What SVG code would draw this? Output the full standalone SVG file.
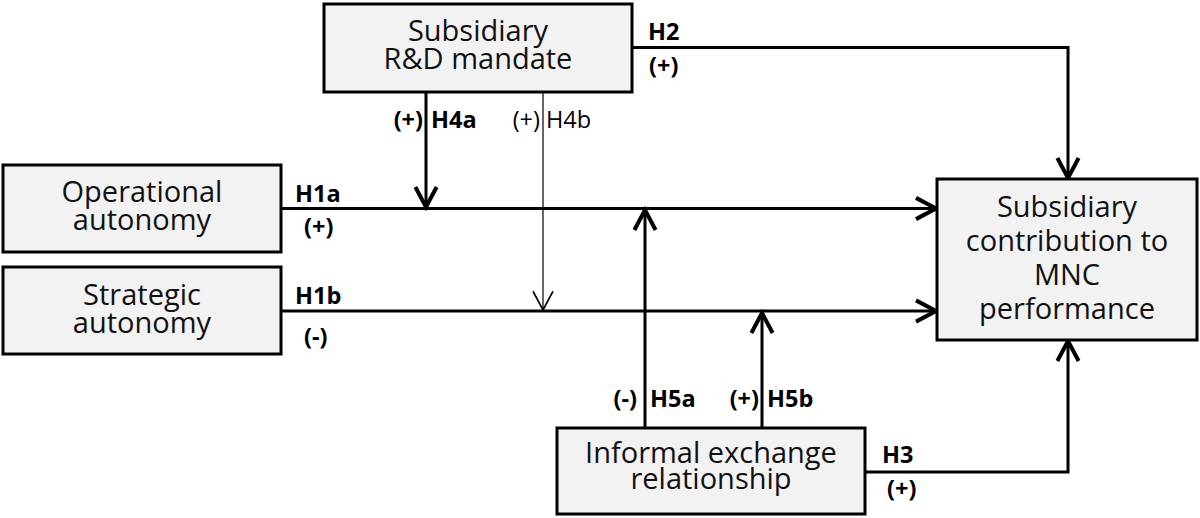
<svg xmlns="http://www.w3.org/2000/svg" width="1200" height="518" viewBox="0 0 1200 518">
  <style>
    .box { fill: #f2f2f2; stroke: #000; stroke-width: 3; }
    .bt { font-family: "Open Sans", "Liberation Sans", sans-serif; font-size: 29px; fill: #111; text-anchor: middle; }
    .lb { font-family: "Open Sans", "Liberation Sans", sans-serif; font-size: 23.5px; font-weight: bold; fill: #000; }
    .ln { font-family: "Open Sans", "Liberation Sans", sans-serif; font-size: 23.5px; fill: #000; }
    .c { fill: none; stroke: #000; stroke-width: 3; marker-end: url(#ah); }
    .ct { fill: none; stroke: #000; stroke-width: 1.2; marker-end: url(#aht); }
  </style>
  <defs>
    <marker id="ah" markerUnits="userSpaceOnUse" markerWidth="30" markerHeight="30" viewBox="-20 -12 24 24" refX="0" refY="0" orient="auto">
      <path d="M-16,-8.5 L0,0 L-16,8.5" fill="none" stroke="#000" stroke-width="3.2"/>
    </marker>
    <marker id="aht" markerUnits="userSpaceOnUse" markerWidth="30" markerHeight="30" viewBox="-20 -12 24 24" refX="0" refY="0" orient="auto">
      <path d="M-15,-8 L0,0 L-15,8" fill="none" stroke="#000" stroke-width="1.3"/>
    </marker>
  </defs>

  <g id="connectors">
    <path class="c" d="M281,208.5 H936"/>
    <path class="c" d="M281,311 H936"/>
    <path class="c" d="M632,47.5 H1068 V178"/>
    <path class="c" d="M865,472 H1068 V341"/>
    <path class="c" d="M426,92 V207"/>
    <path class="ct" d="M543,92 V310"/>
    <path class="c" d="M645,428 V210"/>
    <path class="c" d="M762,428 V313"/>
  </g>

  <g id="node-mandate">
    <rect class="box" x="324" y="4" width="308" height="88"/>
    <text class="bt" x="478" y="41">Subsidiary</text>
    <text class="bt" x="478" y="69">R&amp;D mandate</text>
  </g>
  <g id="node-operational">
    <rect class="box" x="3" y="165" width="278" height="87"/>
    <text class="bt" x="142" y="202">Operational</text>
    <text class="bt" x="142" y="230">autonomy</text>
  </g>
  <g id="node-strategic">
    <rect class="box" x="3" y="267" width="278" height="87"/>
    <text class="bt" x="142" y="305">Strategic</text>
    <text class="bt" x="142" y="333">autonomy</text>
  </g>
  <g id="node-contribution">
    <rect class="box" x="937" y="179" width="260" height="161"/>
    <text class="bt" x="1067" y="217">Subsidiary</text>
    <text class="bt" x="1067" y="251">contribution to</text>
    <text class="bt" x="1067" y="285">MNC</text>
    <text class="bt" x="1067" y="319">performance</text>
  </g>
  <g id="node-informal">
    <rect class="box" x="557" y="428" width="308" height="86"/>
    <text class="bt" x="711" y="463">Informal exchange</text>
    <text class="bt" x="711" y="489">relationship</text>
  </g>

  <g id="labels">
    <text class="lb" x="295" y="202">H1a</text>
    <text class="lb" x="304" y="235">(+)</text>
    <text class="lb" x="295" y="304">H1b</text>
    <text class="lb" x="304" y="345">(-)</text>
    <text class="lb" x="648" y="40">H2</text>
    <text class="lb" x="649" y="74">(+)</text>
    <text class="lb" x="423" y="128" text-anchor="end">(+)</text>
    <text class="lb" x="431" y="128">H4a</text>
    <text class="ln" x="540" y="128" text-anchor="end">(+)</text>
    <text class="ln" x="546" y="128">H4b</text>
    <text class="lb" x="637" y="407" text-anchor="end">(-)</text>
    <text class="lb" x="650" y="407">H5a</text>
    <text class="lb" x="759" y="407" text-anchor="end">(+)</text>
    <text class="lb" x="767" y="407">H5b</text>
    <text class="lb" x="882" y="463">H3</text>
    <text class="lb" x="887" y="497">(+)</text>
  </g>
</svg>
